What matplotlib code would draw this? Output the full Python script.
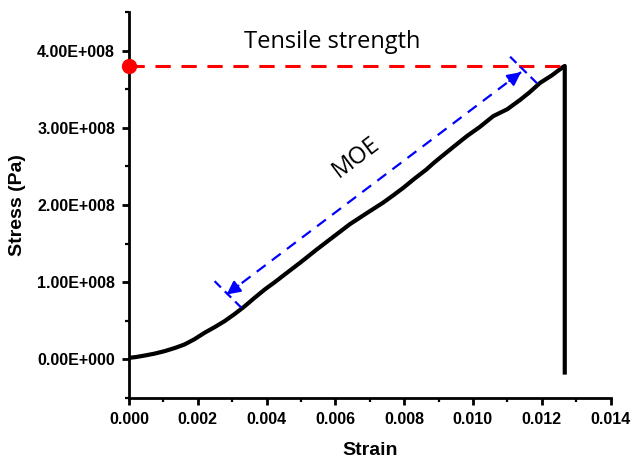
import numpy as np
import matplotlib
matplotlib.use("Agg")
import matplotlib.pyplot as plt
from matplotlib.ticker import MultipleLocator, FuncFormatter

# stress-strain curve (stress in Pa)
strain = [0.0, 0.00020, 0.00046, 0.00075, 0.00104, 0.00135, 0.00162, 0.00190,
          0.00220, 0.00250, 0.00278, 0.00308, 0.00337, 0.00366, 0.00395,
          0.00424, 0.00453, 0.00500, 0.00545, 0.00595, 0.00642, 0.00690,
          0.00739, 0.00770, 0.00797, 0.00830, 0.00865, 0.00885, 0.00904,
          0.00940, 0.00982, 0.01020, 0.01059, 0.01100, 0.01137, 0.01165,
          0.01195, 0.01230, 0.01263, 0.01267, 0.01267]
stress = [0.02e8, 0.03e8, 0.05e8, 0.075e8, 0.107e8, 0.15e8, 0.194e8, 0.26e8,
          0.345e8, 0.42e8, 0.495e8, 0.59e8, 0.69e8, 0.80e8, 0.906e8,
          1.00e8, 1.10e8, 1.26e8, 1.42e8, 1.59e8, 1.75e8, 1.89e8,
          2.03e8, 2.13e8, 2.22e8, 2.34e8, 2.46e8, 2.54e8, 2.61e8,
          2.74e8, 2.89e8, 3.01e8, 3.15e8, 3.24e8, 3.36e8, 3.46e8,
          3.58e8, 3.68e8, 3.79e8, 3.80e8, -0.17e8]

tensile_strength = 3.8e8
break_strain = 0.01267

# MOE arrow (data coords)
moe_start = (0.00284, 0.84e8)
moe_end = (0.01140, 3.72e8)
tick_low = [(0.00249, 1.013e8), (0.00327, 0.669e8)]
tick_high = [(0.01108, 3.92e8), (0.01190, 3.56e8)]

fig = plt.figure(figsize=(6.32, 4.58), dpi=100)
ax = fig.add_axes([0.204, 0.131, 0.762, 0.843])

ax.plot(strain, stress, color='black', lw=3, solid_joinstyle='round')

# tensile strength
ax.plot([0, break_strain], [tensile_strength, tensile_strength], color='red',
        lw=2.2, dashes=(5, 3.5))
ax.plot([0], [tensile_strength], 'o', color='red', ms=10, clip_on=False, zorder=5)
ax.text(0.0059, 4.11e8, 'Tensile strength', fontsize=17, family='Open Sans',
        ha='center', va='center')

# MOE dashed arrow
ax.plot([moe_start[0], moe_end[0]], [moe_start[1], moe_end[1]], color='blue',
        lw=1.6, dashes=(5, 3.5))
for tip, frm in [(moe_start, moe_end), (moe_end, moe_start)]:
    d = np.array(frm) - np.array(tip)
    base = (tip[0] + d[0] * 0.04, tip[1] + d[1] * 0.04)
    ax.annotate('', xy=tip, xytext=base,
                arrowprops=dict(arrowstyle='-|>', color='blue', lw=1.6,
                                mutation_scale=20, shrinkA=0, shrinkB=0))
for seg in (tick_low, tick_high):
    ax.plot([seg[0][0], seg[1][0]], [seg[0][1], seg[1][1]], color='blue',
            lw=1.6, dashes=(4, 2.5))
ax.text(0.00660, 2.62e8, 'MOE', fontsize=17, family='Open Sans', rotation=37,
        ha='center', va='center')

ax.set_xlim(0, 0.014)
ax.set_ylim(-0.5e8, 4.5e8)
ax.xaxis.set_major_locator(MultipleLocator(0.002))
ax.xaxis.set_minor_locator(MultipleLocator(0.001))
ax.yaxis.set_major_locator(MultipleLocator(1e8))
ax.yaxis.set_minor_locator(MultipleLocator(0.5e8))
ax.xaxis.set_major_formatter(FuncFormatter(lambda v, p: '%.3f' % v))


def sci(v, p):
    if v == 0:
        return '0.00E+000'
    e = int(np.floor(np.log10(abs(v))))
    return '%.2fE+%03d' % (v / 10 ** e, e)


ax.yaxis.set_major_formatter(FuncFormatter(sci))

for s in ['top', 'right']:
    ax.spines[s].set_visible(False)
for s in ['left', 'bottom']:
    ax.spines[s].set_linewidth(2)
ax.tick_params(which='major', length=5, width=2, direction='out', pad=5)
ax.tick_params(which='minor', length=3, width=1.6, direction='out')
for lab in ax.get_xticklabels() + ax.get_yticklabels():
    lab.set_fontweight('bold')
    lab.set_fontsize(11.5)
    lab.set_family('Liberation Sans')

ax.set_xlabel('Strain', fontsize=14, fontweight='bold', family='Liberation Sans',
              labelpad=11)
ax.set_ylabel('Stress (Pa)', fontsize=14, fontweight='bold',
              family='Liberation Sans', labelpad=8)

fig.savefig('out.png', dpi=100)
